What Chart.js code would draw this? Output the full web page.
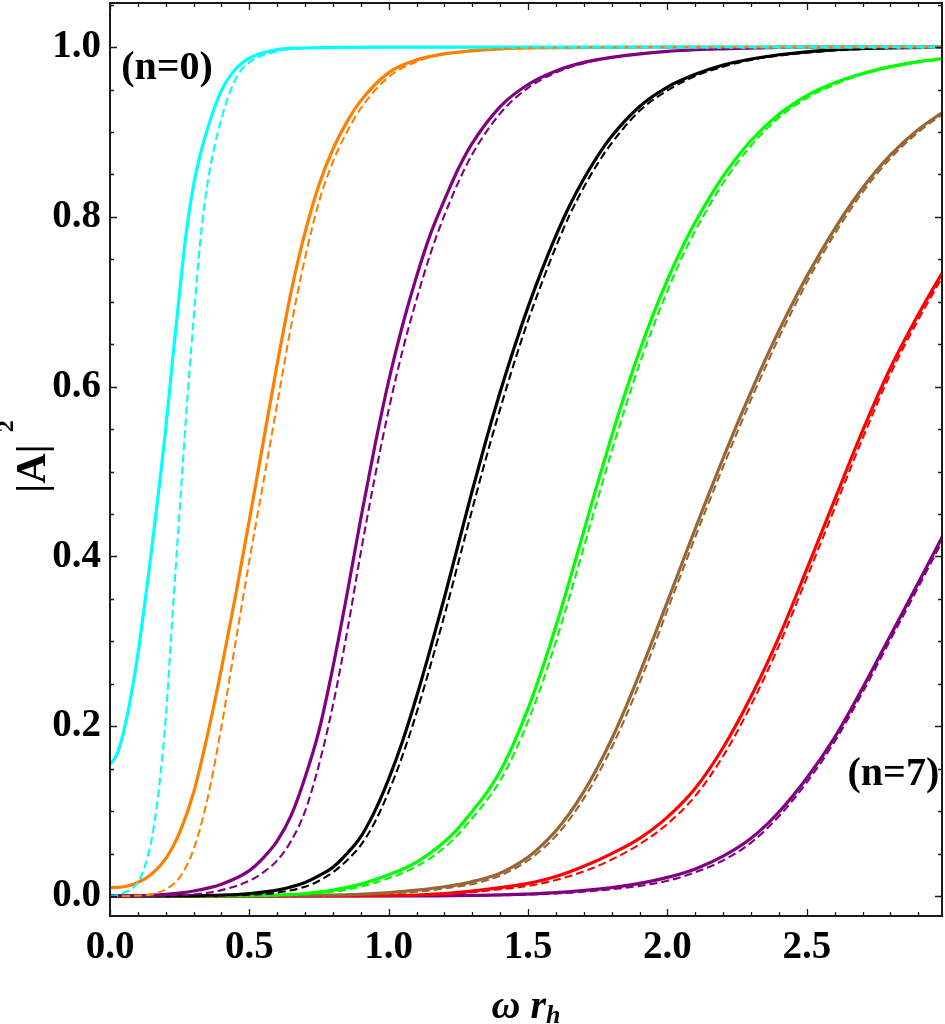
<!DOCTYPE html>
<html>
<head>
<meta charset="utf-8">
<script src="https://cdn.jsdelivr.net/npm/chart.js@4.4.1/dist/chart.umd.min.js"></script>
<style>
  html, body { margin: 0; padding: 0; background: #fff; }
</style>
</head>
<body>
<canvas id="chart" width="945" height="1024"></canvas>
<script>
// tick labels
const xTicks = [0, 0.5, 1.0, 1.5, 2.0, 2.5];
const yTicks = [0, 0.2, 0.4, 0.6, 0.8, 1.0];

// curve colours, n = 0 .. 7
const colors = ['#00FFFF', '#FF8000', '#800080', '#000000', '#00FF00', '#996633', '#FF0000', '#800080'];

// n = 0
const omega0 = [0, 0.025, 0.05, 0.075, 0.1, 0.125, 0.15, 0.175, 0.2, 0.225, 0.25, 0.275, 0.3, 0.325, 0.35, 0.4, 0.45, 0.5, 0.6, 0.7, 1.0, 3.0];
const solid0 = [0.155, 0.167, 0.195, 0.235, 0.285, 0.345, 0.41, 0.478, 0.55, 0.633, 0.712, 0.785, 0.838, 0.875, 0.904, 0.949, 0.974, 0.987, 0.997, 0.999, 1.0, 1.0];
const dashed0 = [0.0, 0.001, 0.004, 0.008, 0.016, 0.035, 0.068, 0.125, 0.21, 0.335, 0.455, 0.575, 0.68, 0.775, 0.84, 0.916, 0.962, 0.982, 0.995, 0.999, 1.0, 1.0];

// n = 1
const omega1 = [0, 0.05, 0.1, 0.15, 0.2, 0.25, 0.3, 0.35, 0.4, 0.45, 0.5, 0.55, 0.6, 0.65, 0.7, 0.75, 0.8, 0.85, 0.9, 1.0, 1.1, 1.2, 1.4, 1.6, 2.0, 3.0];
const solid1 = [0.010, 0.011, 0.016, 0.026, 0.044, 0.075, 0.122, 0.19, 0.268, 0.353, 0.443, 0.535, 0.627, 0.712, 0.782, 0.838, 0.88, 0.912, 0.937, 0.97, 0.985, 0.992, 0.998, 0.9995, 1.0, 1.0];
const dashed1 = [0, 0.0001, 0.0005, 0.002, 0.008, 0.022, 0.055, 0.115, 0.2, 0.298, 0.395, 0.487, 0.58, 0.672, 0.752, 0.818, 0.865, 0.9, 0.928, 0.965, 0.983, 0.992, 0.998, 0.9995, 1.0, 1.0];

// n = 2
const omega2 = [0, 0.1, 0.2, 0.3, 0.4, 0.5, 0.55, 0.6, 0.65, 0.7, 0.75, 0.8, 0.85, 0.9, 0.95, 1.0, 1.05, 1.1, 1.15, 1.2, 1.25, 1.3, 1.4, 1.5, 1.6, 1.7, 1.8, 2.0, 2.2, 2.5, 3.0];
const solid2 = [0, 0.0003, 0.002, 0.006, 0.014, 0.03, 0.045, 0.065, 0.095, 0.14, 0.195, 0.27, 0.355, 0.445, 0.53, 0.607, 0.673, 0.73, 0.78, 0.82, 0.857, 0.887, 0.93, 0.956, 0.972, 0.982, 0.988, 0.995, 0.998, 1.0, 1.0];
const dashed2 = [0, 0.0001, 0.0005, 0.002, 0.007, 0.018, 0.028, 0.042, 0.065, 0.10, 0.155, 0.225, 0.31, 0.405, 0.493, 0.573, 0.643, 0.703, 0.757, 0.802, 0.841, 0.874, 0.922, 0.952, 0.97, 0.981, 0.988, 0.995, 0.998, 1.0, 1.0];

// n = 3
const omega3 = [0, 0.3, 0.4, 0.5, 0.6, 0.7, 0.75, 0.8, 0.85, 0.9, 0.95, 1.0, 1.05, 1.1, 1.15, 1.2, 1.25, 1.3, 1.35, 1.4, 1.45, 1.5, 1.55, 1.6, 1.65, 1.7, 1.75, 1.8, 1.9, 2.0, 2.1, 2.2, 2.3, 2.4, 2.6, 2.8, 3.0];
const solid3 = [0, 0.0003, 0.001, 0.003, 0.007, 0.016, 0.024, 0.034, 0.05, 0.07, 0.1, 0.138, 0.183, 0.235, 0.292, 0.352, 0.415, 0.478, 0.538, 0.594, 0.646, 0.694, 0.738, 0.778, 0.814, 0.845, 0.872, 0.895, 0.93, 0.953, 0.968, 0.979, 0.986, 0.991, 0.997, 0.999, 1.0];
const dashed3 = [0, 0.0002, 0.0005, 0.0015, 0.004, 0.011, 0.018, 0.028, 0.042, 0.06, 0.087, 0.123, 0.166, 0.216, 0.272, 0.331, 0.393, 0.456, 0.517, 0.574, 0.628, 0.678, 0.723, 0.765, 0.803, 0.835, 0.863, 0.887, 0.925, 0.949, 0.966, 0.977, 0.985, 0.99, 0.996, 0.999, 1.0];

// n = 4
const omega4 = [0, 0.5, 0.6, 0.7, 0.8, 0.9, 1.0, 1.1, 1.2, 1.25, 1.3, 1.35, 1.4, 1.45, 1.5, 1.55, 1.6, 1.65, 1.7, 1.75, 1.8, 1.85, 1.9, 1.95, 2.0, 2.05, 2.1, 2.2, 2.3, 2.4, 2.5, 2.6, 2.7, 2.8, 2.9, 3.0];
const solid4 = [0, 0.0005, 0.001, 0.003, 0.007, 0.014, 0.025, 0.04, 0.064, 0.08, 0.1, 0.121, 0.147, 0.181, 0.221, 0.267, 0.318, 0.373, 0.43, 0.487, 0.542, 0.594, 0.642, 0.686, 0.726, 0.762, 0.794, 0.848, 0.89, 0.921, 0.943, 0.958, 0.969, 0.977, 0.983, 0.987];
const dashed4 = [0, 0.0003, 0.0006, 0.002, 0.005, 0.011, 0.021, 0.035, 0.057, 0.073, 0.092, 0.112, 0.136, 0.168, 0.206, 0.25, 0.3, 0.354, 0.411, 0.468, 0.524, 0.577, 0.627, 0.672, 0.713, 0.751, 0.784, 0.84, 0.884, 0.917, 0.94, 0.956, 0.968, 0.976, 0.982, 0.986];

// n = 5
const omega5 = [0, 0.8, 1.0, 1.1, 1.2, 1.3, 1.4, 1.5, 1.55, 1.6, 1.65, 1.7, 1.75, 1.8, 1.85, 1.9, 1.95, 2.0, 2.05, 2.1, 2.15, 2.2, 2.25, 2.3, 2.35, 2.4, 2.45, 2.5, 2.6, 2.7, 2.8, 2.9, 3.0];
const solid5 = [0, 0.001, 0.004, 0.007, 0.011, 0.017, 0.027, 0.046, 0.06, 0.077, 0.098, 0.123, 0.152, 0.185, 0.222, 0.262, 0.304, 0.347, 0.39, 0.433, 0.475, 0.516, 0.556, 0.594, 0.631, 0.666, 0.699, 0.73, 0.786, 0.834, 0.873, 0.903, 0.926];
const dashed5 = [0, 0.0007, 0.003, 0.005, 0.009, 0.014, 0.024, 0.042, 0.055, 0.071, 0.091, 0.115, 0.143, 0.175, 0.211, 0.251, 0.293, 0.337, 0.38, 0.423, 0.465, 0.506, 0.546, 0.585, 0.622, 0.658, 0.691, 0.723, 0.78, 0.829, 0.869, 0.9, 0.924];

// n = 6
const omega6 = [0, 1.0, 1.2, 1.4, 1.5, 1.6, 1.7, 1.8, 1.9, 2.0, 2.1, 2.2, 2.3, 2.4, 2.5, 2.6, 2.7, 2.8, 2.9, 3.0];
const solid6 = [0, 0.0005, 0.003, 0.01, 0.015, 0.023, 0.035, 0.05, 0.068, 0.093, 0.127, 0.175, 0.235, 0.305, 0.385, 0.467, 0.548, 0.622, 0.685, 0.742];
const dashed6 = [0, 0.0003, 0.002, 0.008, 0.012, 0.019, 0.029, 0.043, 0.061, 0.085, 0.118, 0.165, 0.225, 0.295, 0.375, 0.457, 0.539, 0.615, 0.679, 0.737];

// n = 7
const omega7 = [0, 1.0, 1.4, 1.6, 1.8, 1.9, 2.0, 2.1, 2.2, 2.3, 2.4, 2.5, 2.6, 2.7, 2.8, 2.9, 3.0];
const solid7 = [0, 0.0002, 0.0015, 0.004, 0.01, 0.015, 0.022, 0.032, 0.047, 0.068, 0.099, 0.139, 0.187, 0.245, 0.307, 0.369, 0.432];
const dashed7 = [0, 0.0001, 0.001, 0.003, 0.008, 0.012, 0.018, 0.028, 0.042, 0.063, 0.094, 0.134, 0.182, 0.24, 0.302, 0.364, 0.427];

const omegas = [omega0, omega1, omega2, omega3, omega4, omega5, omega6, omega7];
const solids = [solid0, solid1, solid2, solid3, solid4, solid5, solid6, solid7];
const dashes = [dashed0, dashed1, dashed2, dashed3, dashed4, dashed5, dashed6, dashed7];

const SERIF = "'Liberation Serif', 'Times New Roman', serif";

function points(xs, ys) {
    return xs.map((x, i) => ({ x: x, y: ys[i] }));
}

// build datasets: dashed curves drawn above the solid ones
const datasets = [];
for (let n = 0; n < 8; n++) {
    datasets.push({
        label: 'n=' + n,
        data: points(omegas[n], solids[n]),
        borderColor: colors[n],
        borderWidth: 3.2,
        order: 1
    });
    datasets.push({
        label: 'n=' + n + ' (dashed)',
        data: points(omegas[n], dashes[n]),
        borderColor: colors[n],
        borderWidth: 2.1,
        borderDash: [8, 4],
        order: 0
    });
}

// frame with inward ticks on all four sides, plus texts
const framePlugin = {
    id: 'frame',
    afterDatasetsDraw(chart) {
        const { ctx, chartArea: a, scales: { x, y } } = chart;
        ctx.save();
        ctx.strokeStyle = '#1a1a1a';
        ctx.lineWidth = 1.3;
        ctx.beginPath();
        for (let i = 0; i <= 29; i++) {
            const px = Math.round(x.getPixelForValue(i / 10)) + 0.5;
            const len = i % 5 === 0 ? 7 : 4;
            ctx.moveTo(px, a.bottom); ctx.lineTo(px, a.bottom - len);
            ctx.moveTo(px, a.top); ctx.lineTo(px, a.top + len);
        }
        for (let i = 0; i <= 21; i++) {
            const py = Math.round(y.getPixelForValue(i / 20)) + 0.5;
            const len = i % 4 === 0 ? 7 : 4;
            ctx.moveTo(a.left, py); ctx.lineTo(a.left + len, py);
            ctx.moveTo(a.right, py); ctx.lineTo(a.right - len, py);
        }
        ctx.stroke();
        ctx.lineWidth = 2;
        ctx.strokeRect(a.left, a.top, a.right - a.left, a.bottom - a.top);
        ctx.restore();
    },
    afterDraw(chart) {
        const { ctx, chartArea: a, scales: { x, y } } = chart;
        ctx.save();
        ctx.fillStyle = '#000';

        // curve annotations
        ctx.font = 'bold 40px ' + SERIF;
        ctx.textBaseline = 'middle';
        ctx.textAlign = 'left';
        ctx.fillText('(n=0)', x.getPixelForValue(0.04), y.getPixelForValue(0.975));
        ctx.textAlign = 'right';
        ctx.fillText('(n=7)', x.getPixelForValue(2.975), y.getPixelForValue(0.143));

        // x axis title: omega r_h
        ctx.textBaseline = 'alphabetic';
        ctx.textAlign = 'left';
        const main = 'bold italic 40px ' + SERIF;
        const sub = 'bold italic 26px ' + SERIF;
        ctx.font = main;
        const w1 = ctx.measureText('\u03c9 r').width;
        ctx.font = sub;
        const w2 = ctx.measureText('h').width;
        const x0 = (a.left + a.right) / 2 - (w1 + w2) / 2;
        ctx.font = main;
        ctx.fillText('\u03c9 r', x0, 1018);
        ctx.font = sub;
        ctx.fillText('h', x0 + w1, 1023);

        // y axis title: |A|^2
        ctx.translate(45, 493);
        ctx.rotate(-Math.PI / 2);
        ctx.font = 'bold 42px ' + SERIF;
        ctx.fillText('|A|', 0, 0);
        const wa = ctx.measureText('|A|').width;
        ctx.font = 'bold 24px ' + SERIF;
        ctx.fillText('2', wa + 12, -32);
        ctx.restore();
    }
};

const tickFont = { family: SERIF, size: 39, weight: 'bold' };

new Chart(document.getElementById('chart'), {
    type: 'line',
    data: { datasets: datasets },
    options: {
        responsive: false,
        animation: false,
        devicePixelRatio: 1,
        layout: { padding: { top: 3, right: 3, left: 0, bottom: 0 } },
        elements: {
            point: { radius: 0 },
            line: { cubicInterpolationMode: 'monotone', fill: false }
        },
        plugins: { legend: { display: false }, tooltip: { enabled: false } },
        scales: {
            x: {
                type: 'linear',
                min: 0,
                max: 2.985,
                grid: { display: false, drawTicks: false },
                border: { display: false },
                ticks: {
                    color: '#000',
                    font: tickFont,
                    padding: 9,
                    maxRotation: 0,
                    autoSkip: false,
                    callback: v => v.toFixed(1)
                },
                afterBuildTicks: s => { s.ticks = xTicks.map(v => ({ value: v })); },
                afterFit: s => { s.height = 108; s.paddingLeft = 0; s.paddingRight = 0; }
            },
            y: {
                type: 'linear',
                min: -0.0235,
                max: 1.052,
                grid: { display: false, drawTicks: false },
                border: { display: false },
                ticks: {
                    color: '#000',
                    font: tickFont,
                    padding: 9,
                    autoSkip: false,
                    callback: v => v.toFixed(1)
                },
                afterBuildTicks: s => { s.ticks = yTicks.map(v => ({ value: v })); },
                afterFit: s => { s.width = 110; s.paddingTop = 0; s.paddingBottom = 0; }
            }
        }
    },
    plugins: [framePlugin]
});
</script>
</body>
</html>
